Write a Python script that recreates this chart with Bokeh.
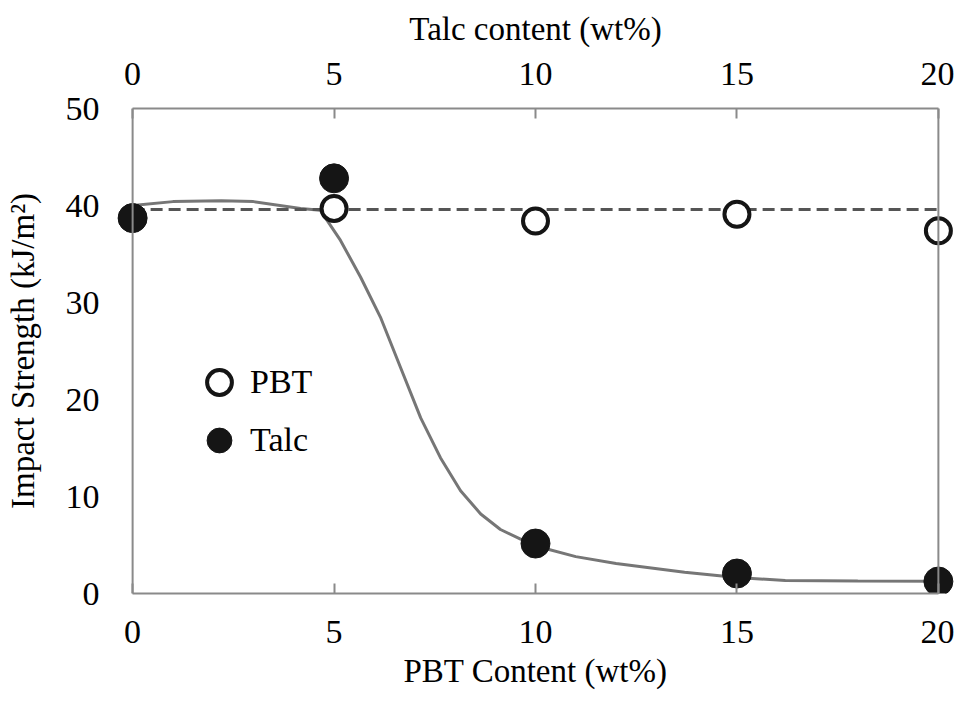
from bokeh.plotting import figure
from bokeh.models import Range1d, LinearAxis, FixedTicker, Legend, LegendItem, Span
from bokeh.embed import file_html
from bokeh.resources import INLINE

# ---- data ----
content = [0, 5, 10, 15, 20]
pbt_impact = [38.7, 39.7, 38.4, 39.1, 37.4]
talc_impact = [38.7, 42.8, 5.15, 2.06, 1.24]

pbt_trend_x = [0, 20]
pbt_trend_y = [39.6, 39.6]

# fitted curve for talc
talc_trend_x = [0, 1, 2.2, 3, 4.17, 4.66, 5.16, 5.66, 6.15, 6.65, 7.15, 7.64,
                8.14, 8.64, 9.13, 9.63, 10.1, 11, 12, 13.7, 15, 16.2, 18, 20]
talc_trend_y = [40.0, 40.4, 40.5, 40.4, 39.7, 39.5, 36.4, 32.6, 28.5, 23.3, 18.1,
                14.0, 10.6, 8.2, 6.6, 5.6, 4.8, 3.8, 3.1, 2.2, 1.65, 1.34, 1.28, 1.27]

x_ticks = [0, 5, 10, 15, 20]
y_ticks = [0, 10, 20, 30, 40, 50]

FONT = "Liberation Serif"
FS_TICK = "34px"
FS_TITLE = "33px"
FRAME = "#8a8a8a"

# the x range is padded beyond 0..20 so the edge markers are not clipped;
# the left/right sides of the box are drawn as spans at x=0 and x=20
p = figure(width=954, height=704, output_backend="svg", toolbar_location=None,
           x_range=Range1d(-0.4, 20.4), y_range=Range1d(0, 50),
           x_axis_location=None, y_axis_location=None,
           min_border_left=116, min_border_right=0, min_border_top=108,
           min_border_bottom=111)
p.grid.visible = False
p.background_fill_color = "white"
p.border_fill_color = "white"
p.outline_line_color = None


def style_axis(ax, label, ticks):
    ax.ticker = FixedTicker(ticks=ticks)
    ax.axis_label = label
    ax.axis_label_text_font = FONT
    ax.axis_label_text_font_size = FS_TITLE
    ax.axis_label_text_font_style = "normal"
    ax.axis_label_text_color = "black"
    ax.major_label_text_font = FONT
    ax.major_label_text_font_size = FS_TICK
    ax.major_label_text_color = "black"
    ax.minor_tick_line_color = None
    ax.axis_line_color = FRAME
    ax.axis_line_width = 2
    ax.major_tick_line_color = FRAME
    ax.major_tick_line_width = 2
    ax.major_tick_out = 0
    ax.major_tick_in = 10


xb = LinearAxis()
style_axis(xb, "PBT Content (wt%)", x_ticks)
xb.bounds = (0, 20)
xb.major_label_standoff = 27
xb.axis_label_standoff = 7
p.add_layout(xb, "below")

xt = LinearAxis()
style_axis(xt, "Talc content (wt%)", x_ticks)
xt.bounds = (0, 20)
xt.major_label_standoff = 24
xt.axis_label_standoff = 13
p.add_layout(xt, "above")

yl = LinearAxis()
style_axis(yl, "Impact Strength (kJ/m²)", y_ticks)
yl.axis_line_color = None
yl.major_tick_in = 0
yl.major_label_standoff = 17
yl.axis_label_standoff = 22
p.add_layout(yl, "left")

# left and right sides of the box
p.add_layout(Span(location=0, dimension="height", line_color=FRAME, line_width=2))
p.add_layout(Span(location=20, dimension="height", line_color=FRAME, line_width=2))

# data
p.line(talc_trend_x, talc_trend_y, line_color="#767676", line_width=3)
p.line(pbt_trend_x, pbt_trend_y, line_color="#555555", line_width=3,
       line_dash="12 6")

r_pbt = p.scatter(content, pbt_impact, size=25, fill_color="white",
                  line_color="#151515", line_width=4)
r_talc = p.scatter(content, talc_impact, size=29, fill_color="#151515",
                   line_color="#151515", line_width=1)


def make_legend(label, renderer, loc):
    return Legend(items=[LegendItem(label=label, renderers=[renderer])],
                  location=loc, glyph_width=62, glyph_height=66,
                  padding=0, margin=0, label_standoff=-8,
                  border_line_color=None, background_fill_alpha=0,
                  label_text_font=FONT, label_text_font_size=FS_TICK,
                  label_text_color="black")


# frame bottom is at y=0: PBT key centred near y 382, Talc near y 440
p.add_layout(make_legend("PBT", r_pbt, (72, 178)), "center")
p.add_layout(make_legend("Talc", r_talc, (72, 120)), "center")

open("out.html", "w").write(file_html(p, INLINE))
